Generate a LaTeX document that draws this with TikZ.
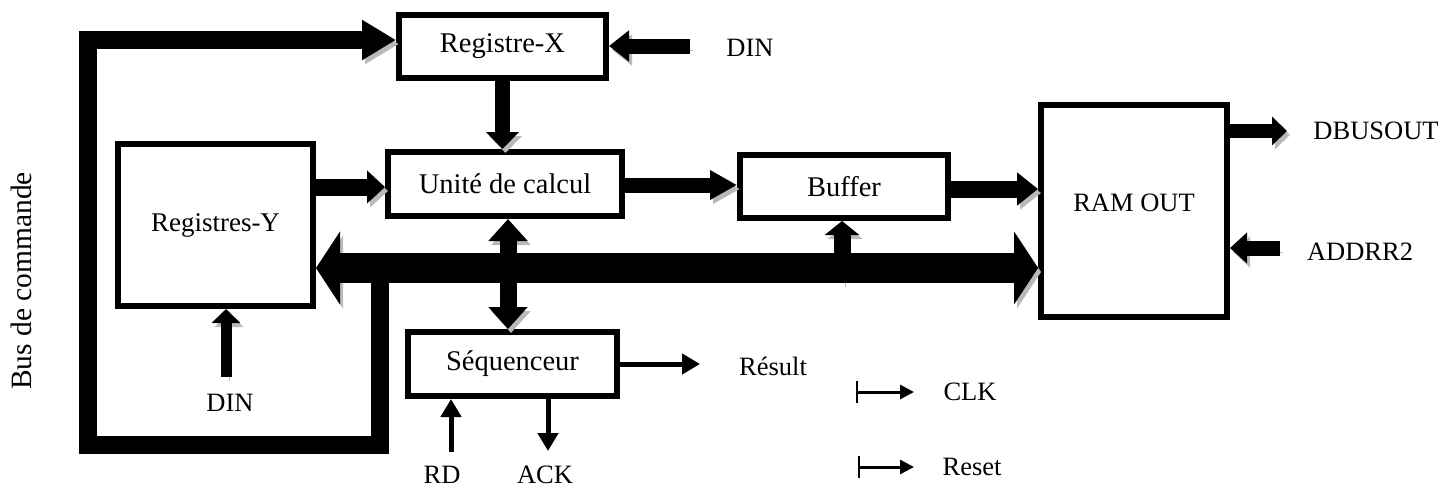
\documentclass[tikz,border=0pt]{standalone}
\usepackage{fontspec}
\setmainfont{Liberation Serif}
\usetikzlibrary{arrows.meta}
\definecolor{shade}{RGB}{185,185,185}
\newcommand\diagfont{\fontsize{26.5}{30}\selectfont}
\newcommand\blockfont{\fontsize{28.5}{32}\selectfont}
\newcommand\busfont{\fontsize{29.5}{33}\selectfont}
\tikzset{
  box/.style={draw, line width=6pt, inner sep=0pt, font=\blockfont},
  lbl/.style={font=\diagfont, inner sep=0pt},
  shadowed/.style={preaction={draw=shade, transform canvas={shift={(3pt,-4pt)}}}},
  fat/.style args={#1/#2/#3}{line width=#1pt, -{Triangle[length=#2pt,width=#3pt]}, shadowed},
  fatboth/.style args={#1/#2/#3}{line width=#1pt, {Triangle[length=#2pt,width=#3pt]}-{Triangle[length=#2pt,width=#3pt]}, shadowed},
  thinarrow/.style={line width=5pt, -{Triangle[length=18pt,width=20pt]}},
  tickarrow/.style={line width=3pt, {Bar[width=22pt,line width=2pt]}-{Triangle[length=14pt,width=14pt]}},
}
\begin{document}
\begin{tikzpicture}[x=1pt,y=-1pt,line join=miter]
\useasboundingbox (0,0) rectangle (1455,488);

% functional blocks
\node[box, minimum width=207pt, minimum height=63pt] (rx) at (502.5,46.5) {Registre-X};
\node[box, minimum width=234pt, minimum height=64pt] (uc) at (505,184) {Unité de calcul};
\node[box, minimum width=208pt, minimum height=63pt] (buf) at (844,186.5) {Buffer};
\node[box, minimum width=186pt, minimum height=212pt, text depth=16pt, font=\diagfont] (ram) at (1134,211) {RAM OUT};
\node[box, minimum width=195pt, minimum height=162pt, font=\fontsize{27}{31}\selectfont] (ry) at (215.5,225) {Registres-Y};
\node[box, minimum width=209pt, minimum height=64pt] (seq) at (512.5,364) {Séquenceur};

% signal names
\node[lbl] (dinx) at (750,48) {DIN};
\node[lbl] (diny) at (230,403) {DIN};
\node[lbl] (res) at (773,366) {Résult};
\node[lbl] (rd) at (442,475) {RD};
\node[lbl] (ack) at (545,475) {ACK};
\node[lbl] (dbus) at (1376,131) {DBUSOUT};
\node[lbl] (addr) at (1360,252) {ADDRR2};
\node[lbl] (clk) at (970,392) {CLK};
\node[lbl] (rst) at (972,467) {Reset};
\node[lbl, font=\busfont, rotate=90] (cmd) at (21,281) {Bus de commande};

% routing points
\coordinate (busy) at (0,268);
\coordinate (cbA) at (380,268);
\coordinate (cbB) at (380,445);
\coordinate (cbC) at (88,445);
\coordinate (cbD) at (88,40);
\coordinate (ya) at (0,187);
\coordinate (yb) at (0,185);
\coordinate (yc) at (0,189);
\coordinate (tapB) at (842,283);
\coordinate (xs) at (508,0);
\coordinate (dxs) at (690,46);
\coordinate (dys) at (226,377);
\coordinate (rese) at (700,364);
\coordinate (rds) at (451,452);
\coordinate (acke) at (548,451);
\coordinate (dbe) at (1287,131);
\coordinate (ads) at (1280,248);
\coordinate (clks) at (856,392);
\coordinate (clke) at (914,392);
\coordinate (rsts) at (858,467);
\coordinate (rste) at (914,467);

% command bus
\draw[fat=18/34/38] (cbA) -- (cbB) -- (cbC) -- (cbD) -- (rx.west |- cbD);
% main data bus
\draw[fatboth=30/24/72] (ry.east |- busy) -- (ram.west |- busy);

% block links
\draw[fat=15/17/32] (rx.south) -- (rx.south |- uc.north);
\draw[fat=17/18/32] (ry.east |- ya) -- (uc.west |- ya);
\draw[fat=15/27/28] (uc.east |- yb) -- (buf.west |- yb);
\draw[fat=17/21/32] (buf.east |- yc) -- (ram.west |- yc);
\draw[fat=17/14/34] (tapB) -- (buf.south -| tapB);
\draw[fatboth=17/22/38] (uc.south -| xs) -- (seq.north -| xs);

% external inputs and outputs
\draw[fat=15/20/30] (dxs) -- (rx.east |- dxs);
\draw[fat=11/14/28] (dys) -- (ry.south -| dys);
\draw[fat=14/15/28] (ram.east |- dbe) -- (dbe);
\draw[fat=15/17/30] (ads) -- (ram.east |- ads);
\draw[thinarrow] (seq.east) -- (rese);
\draw[thinarrow] (rds) -- (seq.south -| rds);
\draw[thinarrow] (seq.south -| acke) -- (acke);
\draw[tickarrow] (clks) -- (clke);
\draw[tickarrow] (rsts) -- (rste);
\end{tikzpicture}
\end{document}
